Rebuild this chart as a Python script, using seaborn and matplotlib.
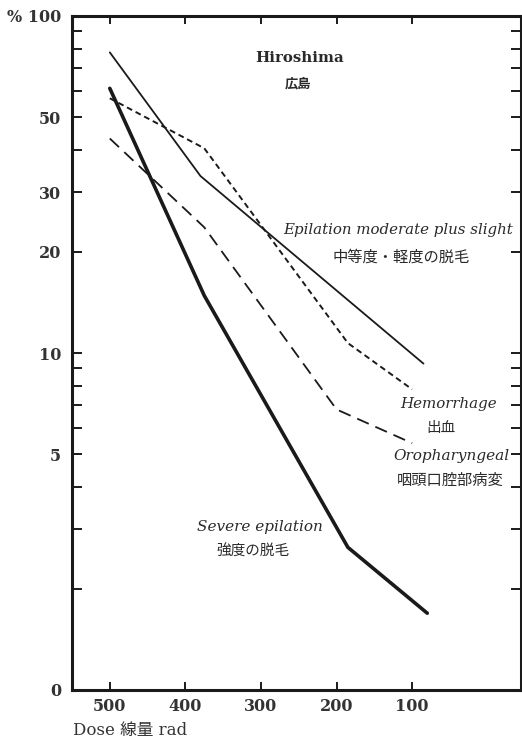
import matplotlib
matplotlib.use("Agg")
import matplotlib.pyplot as plt
import seaborn as sns
import pandas as pd
from matplotlib.ticker import FixedLocator, NullFormatter

# ---- data ----
dose_moderate = [500, 380, 85]
val_moderate = [78, 33.5, 9.3]

dose_hemorrhage = [500, 375, 185, 100]
val_hemorrhage = [57, 40.5, 10.7, 7.8]

dose_oro = [500, 375, 200, 100]
val_oro = [43.3, 23.6, 6.8, 5.4]

dose_severe = [500, 375, 185, 80]
val_severe = [61, 14.8, 2.65, 1.69]

x_ticks = [500, 400, 300, 200, 100]
y_major = [1, 5, 10, 20, 30, 50, 100]
y_major_labels = ["0", "5", "10", "20", "30", "50", "% 100"]
y_minor = [2, 3, 4, 6, 7, 8, 9, 40, 60, 70, 80, 90]

sns.set_theme(style="white")
plt.rcParams['font.family'] = ['DejaVu Serif', 'Noto Sans CJK JP']

fig = plt.figure(figsize=(5.22, 7.42), dpi=100)
ax = fig.add_axes([72/522, 1-690/742, (521-72)/522, (690-16)/742])

ink = "#1a1a1a"

sns.lineplot(x=dose_moderate, y=val_moderate, ax=ax, color=ink, linewidth=1.3, sort=False)
sns.lineplot(x=dose_hemorrhage, y=val_hemorrhage, ax=ax, color=ink, linewidth=1.4,
             linestyle=(0, (3, 2)), sort=False)
sns.lineplot(x=dose_oro, y=val_oro, ax=ax, color=ink, linewidth=1.3,
             linestyle=(0, (7, 4)), sort=False)
sns.lineplot(x=dose_severe, y=val_severe, ax=ax, color=ink, linewidth=2.6, sort=False)

ax.set_yscale("log")
ax.set_ylim(1, 100)
ax.set_xlim(550, -44)

ax.yaxis.set_major_locator(FixedLocator(y_major))
ax.set_yticklabels(y_major_labels)
ax.yaxis.set_minor_locator(FixedLocator(y_minor))
ax.yaxis.set_minor_formatter(NullFormatter())
ax.set_xticks(x_ticks)
ax.set_xticklabels([str(t) for t in x_ticks])

for side in ["left", "right", "top", "bottom"]:
    ax.spines[side].set_visible(True)
    ax.spines[side].set_color(ink)
    ax.spines[side].set_linewidth(2.2)

ax.tick_params(axis="y", which="both", direction="in", left=True, right=True,
               length=7, width=1.4, color=ink, labelsize=11.5, labelcolor="#333333", pad=8)
ax.tick_params(axis="x", which="both", direction="in", bottom=True, top=True,
               length=6, width=1.4, color=ink, labelsize=11.5, labelcolor="#333333", pad=6)
for lab in ax.get_xticklabels() + ax.get_yticklabels():
    lab.set_fontweight("bold")

ax.set_xlabel("")
ax.set_ylabel("")

tc = "#2a2a2a"
cjk = ['Noto Sans CJK JP']
# title
ax.text(0.508, 0.937, "Hiroshima", transform=ax.transAxes, ha="center", va="center",
        fontsize=10.8, fontweight="bold", color=tc)
ax.text(0.503, 0.900, "広島", transform=ax.transAxes, ha="center", va="center",
        fontsize=9.5, fontweight="bold", color=tc, family=cjk)

# series labels
ax.text(1-(521-513)/449, 1-(230-16)/674, "Epilation moderate plus slight", transform=ax.transAxes,
        ha="right", va="center", fontsize=10.8, style="italic", color=tc)
ax.text((401-72)/449, 1-(257-16)/674, "中等度・軽度の脱毛", transform=ax.transAxes,
        ha="center", va="center", fontsize=11, color=tc, family=cjk)
ax.text((449-72)/449, 1-(404-16)/674, "Hemorrhage", transform=ax.transAxes,
        ha="center", va="center", fontsize=10.8, style="italic", color=tc)
ax.text((441-72)/449, 1-(428-16)/674, "出血", transform=ax.transAxes,
        ha="center", va="center", fontsize=10.5, color=tc, family=cjk)
ax.text((451-72)/449, 1-(456-16)/674, "Oropharyngeal", transform=ax.transAxes,
        ha="center", va="center", fontsize=11, style="italic", color=tc)
ax.text((450-72)/449, 1-(480-16)/674, "咽頭口腔部病変", transform=ax.transAxes,
        ha="center", va="center", fontsize=11, color=tc, family=cjk)
ax.text((260-72)/449, 1-(527-16)/674, "Severe epilation", transform=ax.transAxes,
        ha="center", va="center", fontsize=11, style="italic", color=tc)
ax.text((253-72)/449, 1-(552-16)/674, "強度の脱毛", transform=ax.transAxes,
        ha="center", va="center", fontsize=10.5, color=tc, family=cjk)

# x-axis label
fig.text(73/522, 1-730/742, "Dose 線量 rad", ha="left", va="center", fontsize=12,
         color="#333333", family=['DejaVu Serif', 'Noto Sans CJK JP'])

fig.savefig("out.png", dpi=100, facecolor="white")
